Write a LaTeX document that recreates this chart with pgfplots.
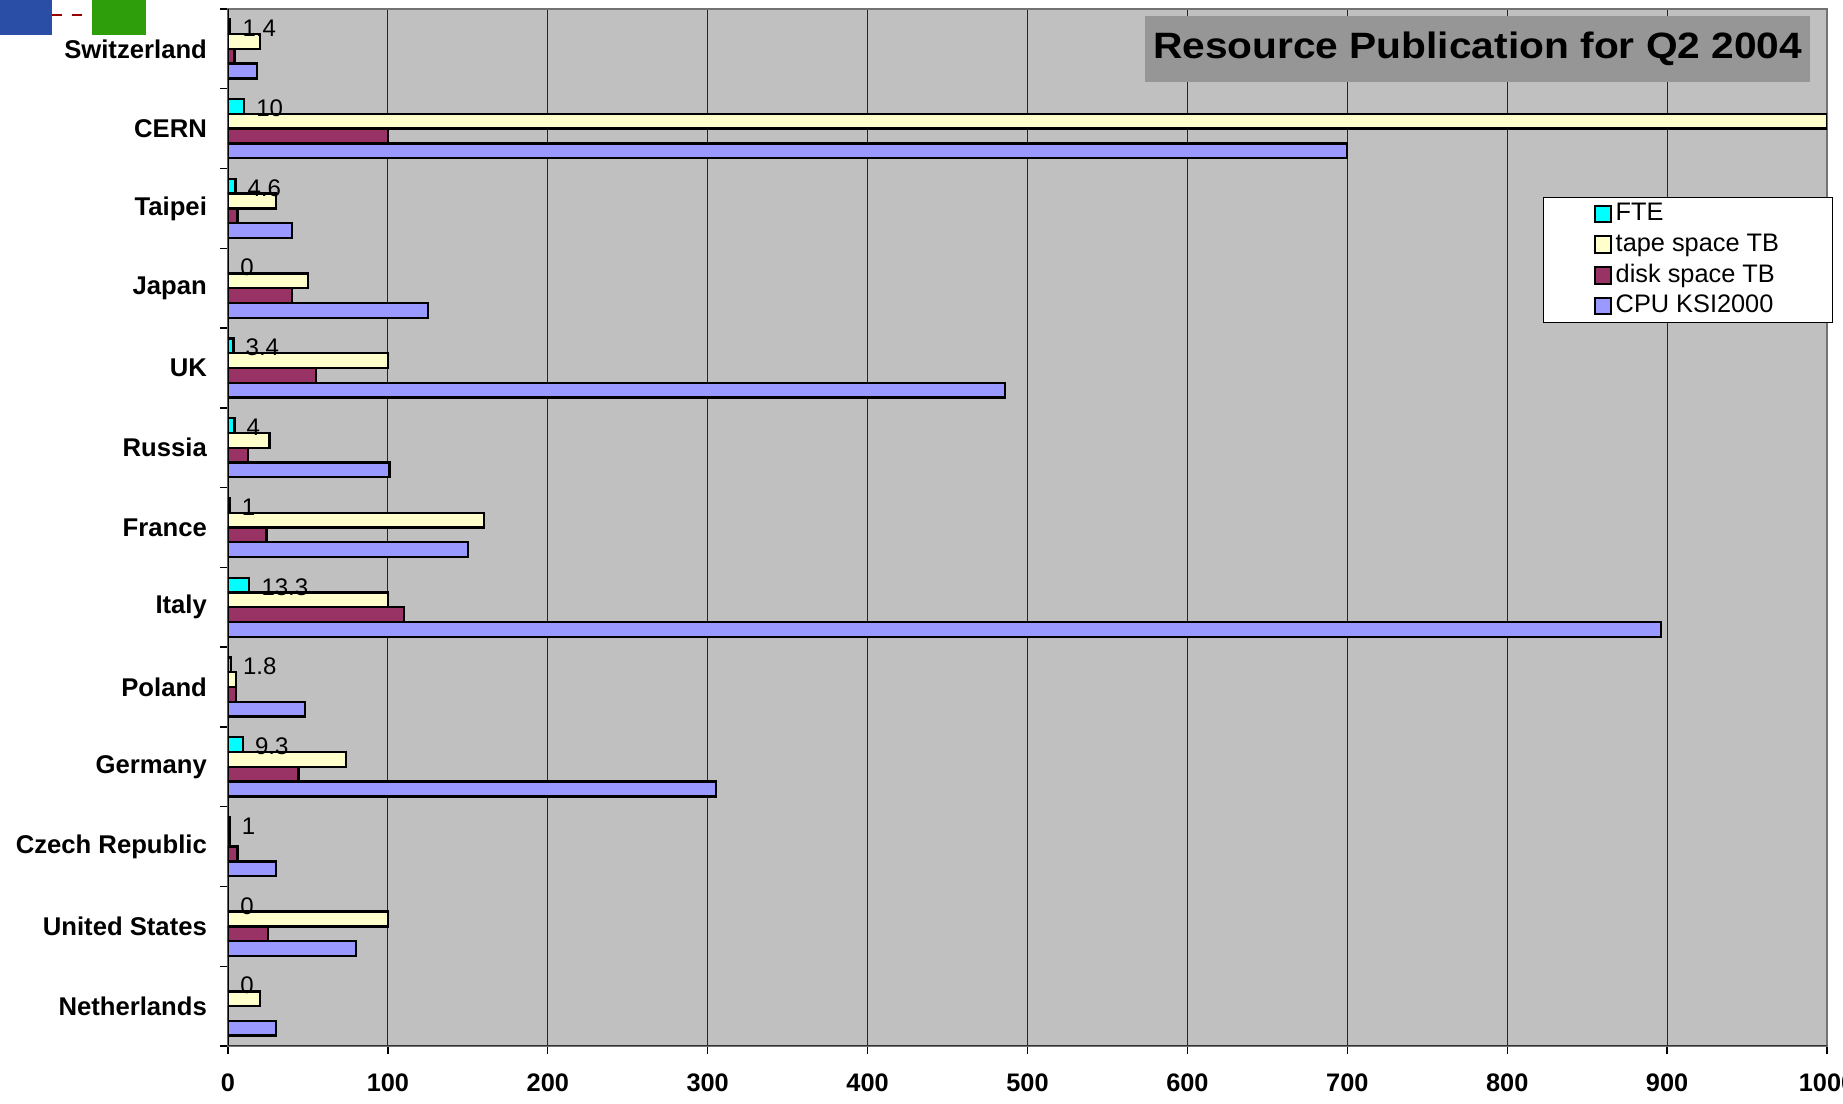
\documentclass[border=0pt]{standalone}
\usepackage{fontspec}
\setmainfont{Liberation Sans}
\usepackage{pgfplots}
\pgfplotsset{compat=1.18}
\definecolor{fte}{HTML}{00FFFF}
\definecolor{tape}{HTML}{FFFFCC}
\definecolor{disk}{HTML}{993366}
\definecolor{cpu}{HTML}{9999FF}
\definecolor{plotbg}{HTML}{C0C0C0}
\definecolor{titlebg}{HTML}{969696}
\definecolor{logoblue}{HTML}{2A4DA6}
\definecolor{logogreen}{HTML}{2E9E0A}
\begin{document}
\begin{tikzpicture}
\clip (-68.4pt,-17.4pt) rectangle (484.5pt,313.8pt);
\fill[white] (-68.4pt,-17.4pt) rectangle (484.5pt,313.8pt);
\fill[logoblue] (-68.4pt,303.3pt) rectangle (-52.8pt,314pt);
\fill[logogreen] (-40.8pt,303.3pt) rectangle (-24.6pt,314pt);
\draw[red!60!black, dashed, line width=0.8pt] (-52.8pt,309.3pt) -- (-40.8pt,309.3pt);
\begin{axis}[
  at={(0,0)}, anchor=south west,
  scale only axis, width=479.7pt, height=311.1pt,
  xbar, bar width=4.43pt,
  xmin=0, xmax=1000, ymin=-0.5, ymax=12.5,
  xtick={0,100,...,1000},
  ytick={0,...,12},
  yticklabels={Netherlands,United States,Czech Republic,Germany,Poland,Italy,France,Russia,UK,Japan,Taipei,CERN,Switzerland},
  minor ytick={-0.5,0.5,...,12.5},
  xtick pos=bottom, ytick pos=left,
  tick align=outside,
  major tick length=2.4pt, minor tick length=2.4pt,
  every major y tick/.style={draw=none},
  every tick/.style={black, line width=0.4pt},
  xmajorgrids,
  major x grid style={black!85, line width=0.35pt},
  axis background/.style={fill=plotbg},
  axis line style={draw=black!55, line width=0.6pt},
  /pgf/number format/assume math mode=true,
  /pgf/number format/1000 sep={},
  xticklabel style={font=\bfseries\fontsize{7.6}{9}\selectfont, yshift=-2.5pt},
  yticklabel style={font=\bfseries\fontsize{7.7}{9}\selectfont, xshift=-0.4pt},
  every node near coord/.append style={font=\fontsize{7.2}{8}\selectfont, black, yshift=-0.5pt},
  legend image code/.code={\draw[#1, line width=0.6pt] (0pt,-2.5pt) rectangle (5pt,2.5pt);},
  reverse legend,
  legend cell align=left,
  legend style={at={(0.8224,0.8187)}, anchor=north west, draw=black, fill=white,
    line width=0.4pt, font=\fontsize{7.6}{9}\selectfont, inner xsep=15pt, inner ysep=0.3pt,
    row sep=0pt, nodes={inner sep=1pt, text height=5.6pt, text depth=1.6pt}},
]
\addplot[draw=black, line width=0.7pt, fill=cpu, bar shift=-6.645pt] coordinates {
 (30,0) (80,1) (30,2) (305,3) (48,4) (896,5) (150,6) (101,7) (486,8) (125,9) (40,10) (700,11) (18,12)};
\addlegendentry{CPU KSI2000}
\addplot[draw=black, line width=0.7pt, fill=disk, bar shift=-2.215pt] coordinates {
 (0,0) (25,1) (6,2) (44,3) (5,4) (110,5) (24,6) (12.5,7) (55,8) (40,9) (6,10) (100,11) (4,12)};
\addlegendentry{disk space TB}
\addplot[draw=black, line width=0.7pt, fill=tape, bar shift=2.215pt] coordinates {
 (20,0) (100,1) (1,2) (74,3) (5,4) (100,5) (160,6) (26,7) (100,8) (50,9) (30,10) (1000,11) (20,12)};
\addlegendentry{tape space TB}
\addplot[draw=black, line width=0.7pt, fill=fte, bar shift=6.645pt, nodes near coords] coordinates {
 (0,0) (0,1) (1,2) (9.3,3) (1.8,4) (13.3,5) (1,6) (4,7) (3.4,8) (0,9) (4.6,10) (10,11) (1.4,12)};
\addlegendentry{FTE}
\draw[black, line width=0.6pt] (rel axis cs:0,0) -- (rel axis cs:0,1);
\draw[black!80, line width=0.6pt] (rel axis cs:0,0) -- (rel axis cs:1,0);
\node[fill=titlebg, minimum width=199.5pt, minimum height=19.8pt, inner sep=0pt,
  font=\bfseries\fontsize{11}{13}\selectfont] at (rel axis cs:0.7815,0.9614)
  {\scalebox{1.11}[1]{Resource Publication for Q2 2004}};
\end{axis}
\end{tikzpicture}
\end{document}
